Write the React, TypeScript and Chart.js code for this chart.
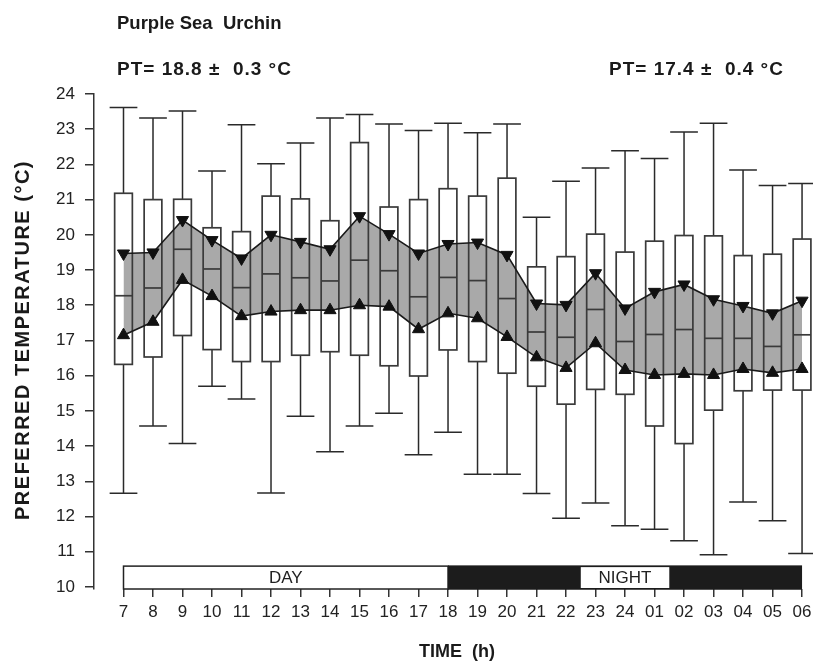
import React, { useEffect, useRef } from "react";
import { Chart, registerables } from "chart.js";

Chart.register(...registerables);

// ---- data ----
const hours = ["7", "8", "9", "10", "11", "12", "13", "14", "15", "16", "17", "18", "19", "20", "21", "22", "23", "24", "01", "02", "03", "04", "05", "06"];
const whiskerHigh = [23.62, 23.32, 23.52, 21.81, 23.13, 22.02, 22.61, 23.32, 23.42, 23.15, 22.96, 23.17, 22.9, 23.15, 20.5, 21.52, 21.9, 22.39, 22.17, 22.92, 23.17, 21.84, 21.4, 21.46];
const boxHigh = [21.18, 21.0, 21.01, 20.2, 20.09, 21.1, 21.02, 20.4, 22.62, 20.79, 21.0, 21.31, 21.1, 21.61, 19.09, 19.38, 20.02, 19.51, 19.82, 19.98, 19.97, 19.41, 19.45, 19.88];
const medians = [18.27, 18.49, 19.59, 19.03, 18.5, 18.89, 18.78, 18.69, 19.28, 18.98, 18.24, 18.79, 18.7, 18.19, 17.24, 17.09, 17.88, 16.97, 17.17, 17.31, 17.06, 17.06, 16.83, 17.16];
const boxLow = [16.32, 16.53, 17.14, 16.74, 16.4, 16.4, 16.58, 16.68, 16.58, 16.28, 15.99, 16.73, 16.4, 16.07, 15.7, 15.19, 15.61, 15.47, 14.57, 14.07, 15.02, 15.57, 15.59, 15.59];
const whiskerLow = [12.66, 14.57, 14.07, 15.7, 15.34, 12.67, 14.85, 13.84, 14.57, 14.93, 13.75, 14.39, 13.2, 13.2, 12.65, 11.95, 12.38, 11.74, 11.64, 11.31, 10.91, 12.41, 11.88, 10.95];
const upperLimit = [19.47, 19.5, 20.42, 19.85, 19.33, 20.0, 19.8, 19.59, 20.53, 20.02, 19.47, 19.74, 19.78, 19.43, 18.05, 18.01, 18.91, 17.91, 18.38, 18.59, 18.17, 17.98, 17.77, 18.13];
const lowerLimit = [17.15, 17.53, 18.72, 18.26, 17.69, 17.82, 17.86, 17.86, 18.0, 17.96, 17.32, 17.77, 17.63, 17.1, 16.52, 16.22, 16.92, 16.16, 16.02, 16.05, 16.02, 16.19, 16.08, 16.19];
const yTicks = [10, 11, 12, 13, 14, 15, 16, 17, 18, 19, 20, 21, 22, 23, 24];
const periodLabels = ["DAY", "NIGHT"];
const titleText = "Purple Sea  Urchin";
const dayPT = "PT= 18.8 \u00B1  0.3 \u00B0C";
const nightPT = "PT= 17.4 \u00B1  0.4 \u00B0C";
const xTitle = "TIME  (h)";
const yTitle = "PREFERRED TEMPERATURE (\u00B0C)";

const FONT = "'Liberation Sans', Arial, Helvetica, sans-serif";

export default function App() {
  const ref = useRef<HTMLCanvasElement | null>(null);

  useEffect(() => {
    const canvas = ref.current;
    if (!canvas) return;
    const idx = hours.map((_, i) => i);

    const boxPlugin = {
      id: "boxes",
      beforeDatasetsDraw(chart: any) {
        const { ctx } = chart;
        const x = chart.scales.x;
        const y = chart.scales.y;
        ctx.save();
        idx.forEach((i) => {
          const cx = x.getPixelForValue(i);
          const hw = x.getPixelForValue(i + 0.3) - cx;
          const cw = x.getPixelForValue(i + 0.47) - cx;
          const yWT = y.getPixelForValue(whiskerHigh[i]);
          const yBT = y.getPixelForValue(boxHigh[i]);
          const yMd = y.getPixelForValue(medians[i]);
          const yBB = y.getPixelForValue(boxLow[i]);
          const yWB = y.getPixelForValue(whiskerLow[i]);
          ctx.strokeStyle = "#2a2a2a";
          ctx.lineWidth = 1.5;
          ctx.beginPath();
          ctx.moveTo(cx, yBT);
          ctx.lineTo(cx, yWT);
          ctx.moveTo(cx - cw, yWT);
          ctx.lineTo(cx + cw, yWT);
          ctx.moveTo(cx, yBB);
          ctx.lineTo(cx, yWB);
          ctx.moveTo(cx - cw, yWB);
          ctx.lineTo(cx + cw, yWB);
          ctx.stroke();
          ctx.strokeStyle = "#3a3a3a";
          ctx.lineWidth = 1.7;
          ctx.strokeRect(cx - hw, yBT, hw * 2, yBB - yBT);
          ctx.beginPath();
          ctx.moveTo(cx - hw, yMd);
          ctx.lineTo(cx + hw, yMd);
          ctx.stroke();
        });
        ctx.restore();
      },
    };

    const decoPlugin = {
      id: "deco",
      afterDraw(chart: any) {
        const { ctx } = chart;
        const x = chart.scales.x;
        const y = chart.scales.y;
        ctx.save();
        // day / night bar
        const top = y.getPixelForValue(10.59);
        const bot = y.getPixelForValue(9.94);
        const x0 = x.getPixelForValue(0);
        const x11 = x.getPixelForValue(11);
        const x23 = x.getPixelForValue(23);
        ctx.fillStyle = "#fff";
        ctx.fillRect(x0, top, x11 - x0, bot - top);
        ctx.strokeStyle = "#222";
        ctx.lineWidth = 1.5;
        ctx.strokeRect(x0, top, x11 - x0, bot - top);
        ctx.fillStyle = "#1c1c1c";
        ctx.fillRect(x11, top - 0.75, x23 - x11, bot - top + 1.5);
        const n0 = x.getPixelForValue(15.5);
        const n1 = x.getPixelForValue(18.5);
        ctx.fillStyle = "#fff";
        ctx.fillRect(n0, top + 1, n1 - n0, bot - top - 2);
        ctx.fillStyle = "#222";
        ctx.font = `17px ${FONT}`;
        ctx.textAlign = "center";
        ctx.textBaseline = "middle";
        ctx.fillText(periodLabels[0], (x0 + x11) / 2, (top + bot) / 2 + 1);
        ctx.fillText(periodLabels[1], (n0 + n1) / 2, (top + bot) / 2 + 1);

        // titles
        ctx.fillStyle = "#1a1a1a";
        ctx.textAlign = "left";
        ctx.textBaseline = "alphabetic";
        ctx.font = `bold 18.5px ${FONT}`;
        ctx.fillText(titleText, 117, 29);
        ctx.font = `bold 19px ${FONT}`;
        (ctx as any).letterSpacing = "1px";
        ctx.fillText(dayPT, 117, 75);
        ctx.fillText(nightPT, 609, 75);
        (ctx as any).letterSpacing = "0px";
        ctx.textAlign = "center";
        ctx.font = `bold 18px ${FONT}`;
        ctx.fillText(xTitle, 457, 657);
        ctx.font = `bold 20px ${FONT}`;
        (ctx as any).letterSpacing = "1.5px";
        ctx.translate(29, 340);
        ctx.rotate(-Math.PI / 2);
        ctx.fillText(yTitle, 0, 0);
        ctx.restore();
      },
    };

    const chart = new Chart(canvas, {
      type: "line",
      data: {
        datasets: [
          {
            label: "upper",
            data: upperLimit.map((v, i) => ({ x: i, y: v })),
            borderColor: "#1a1a1a",
            borderWidth: 1.6,
            pointStyle: "triangle",
            rotation: 180,
            pointRadius: 7,
            pointBackgroundColor: "#111",
            pointBorderColor: "#111",
            pointBorderWidth: 1,
            fill: false,
            tension: 0,
            clip: false,
          },
          {
            label: "lower",
            data: lowerLimit.map((v, i) => ({ x: i, y: v })),
            borderColor: "#1a1a1a",
            borderWidth: 1.6,
            pointStyle: "triangle",
            rotation: 0,
            pointRadius: 7,
            pointBackgroundColor: "#111",
            pointBorderColor: "#111",
            pointBorderWidth: 1,
            fill: "-1",
            backgroundColor: "#a9a9a9",
            tension: 0,
            clip: false,
          },
        ],
      },
      options: {
        responsive: false,
        animation: false,
        layout: { padding: { top: 94, right: 2, bottom: 0, left: 0 } },
        plugins: {
          legend: { display: false },
          tooltip: { enabled: false },
          filler: { drawTime: "beforeDatasetsDraw" },
        },
        scales: {
          x: {
            type: "linear",
            min: -1,
            max: 23.1,
            afterBuildTicks: (s: any) => {
              s.ticks = idx.map((v) => ({ value: v }));
            },
            afterFit: (s: any) => {
              s.height = 74;
              s.paddingLeft = 0;
              s.paddingRight = 0;
            },
            border: { display: false },
            grid: { drawOnChartArea: false, drawTicks: true, tickLength: 8, color: "#333", lineWidth: 1.5 },
            ticks: {
              autoSkip: false,
              maxRotation: 0,
              minRotation: 0,
              padding: 5,
              color: "#222",
              font: { family: FONT, size: 17 },
              callback: (_v: any, i: number) => hours[i],
            },
          },
          y: {
            type: "linear",
            min: 9.94,
            max: 24,
            afterBuildTicks: (s: any) => {
              s.ticks = yTicks.map((v) => ({ value: v }));
            },
            afterFit: (s: any) => {
              s.width = 94;
              s.paddingTop = 0;
              s.paddingBottom = 0;
            },
            border: { display: true, color: "#333", width: 1.5 },
            grid: { drawOnChartArea: false, drawTicks: true, tickLength: 9, color: "#333", lineWidth: 1.5 },
            ticks: {
              padding: 10,
              color: "#222",
              font: { family: FONT, size: 17 },
              callback: (v: any) => String(v),
            },
          },
        },
      },
      plugins: [boxPlugin, decoPlugin],
    } as any);

    return () => chart.destroy();
  }, []);

  return (
    <div style={{ position: "fixed", left: 0, top: 0, width: 813, height: 663, background: "#fff" }}>
      <canvas ref={ref} width={813} height={663} style={{ display: "block" }} />
    </div>
  );
}
